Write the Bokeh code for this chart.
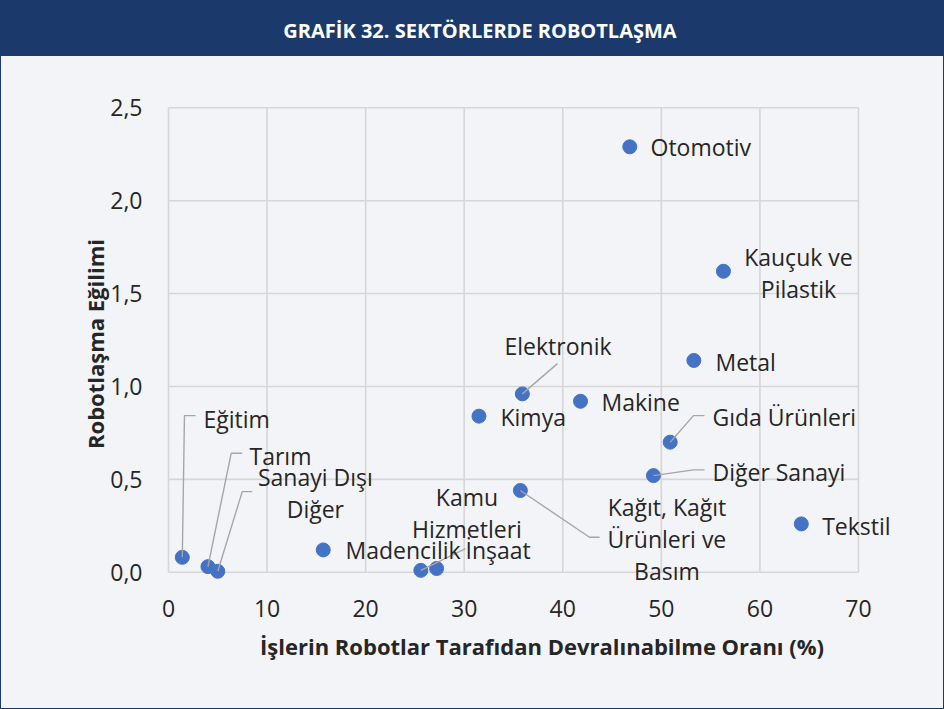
from bokeh.plotting import figure
from bokeh.layouts import column
from bokeh.models import Range1d, ColumnDataSource, FixedTicker, Div
from bokeh.core.properties import value, field
from bokeh.embed import file_html
from bokeh.resources import INLINE

# ---------------- data ----------------
title_text = "GRAFİK 32. SEKTÖRLERDE ROBOTLAŞMA"
x_title = "İşlerin Robotlar Tarafıdan Devralınabilme Oranı (%)"
y_title = "Robotlaşma Eğilimi"

sectors = ["Eğitim", "Tarım", "Sanayi Dışı Diğer", "Madencilik", "Kamu Hizmetleri",
           "İnşaat", "Kimya", "Elektronik", "Kağıt, Kağıt Ürünleri ve Basım", "Makine",
           "Otomotiv", "Diğer Sanayi", "Gıda Ürünleri", "Metal", "Kauçuk ve Pilastik", "Tekstil"]
automation_share = [1.4, 4.0, 5.0, 15.7, 25.6, 27.2, 31.5, 35.9, 35.7, 41.8,
                    46.8, 49.2, 50.9, 53.3, 56.3, 64.2]
robot_tendency = [0.08, 0.03, 0.005, 0.12, 0.01, 0.02, 0.84, 0.96, 0.44, 0.92,
                  2.29, 0.52, 0.70, 1.14, 1.62, 0.26]

label_lines = [["Eğitim"], ["Tarım"], ["Sanayi Dışı", "Diğer"], ["Madencilik"],
               ["Kamu", "Hizmetleri"], ["İnşaat"], ["Kimya"], ["Elektronik"],
               ["Kağıt, Kağıt", "Ürünleri ve", "Basım"], ["Makine"], ["Otomotiv"],
               ["Diğer Sanayi"], ["Gıda Ürünleri"], ["Metal"], ["Kauçuk ve", "Pilastik"], ["Tekstil"]]
label_x = [3.55, 8.22, 14.9, 17.96, 30.28, 30.13, 33.68, 39.52, 50.57, 43.93,
           48.9, 55.19, 55.19, 55.49, 63.91, 66.32]
label_y = [0.827, 0.628, 0.427, 0.122, 0.321, 0.117, 0.833, 1.220, 0.179, 0.915,
           2.287, 0.542, 0.833, 1.130, 1.611, 0.248]
label_align = ["left", "left", "center", "left", "center", "left", "left", "center",
               "center", "left", "left", "left", "left", "left", "center", "left"]

leader_sectors = ["Eğitim", "Tarım", "Sanayi Dışı Diğer", "Kamu Hizmetleri", "Elektronik",
                  "Gıda Ürünleri", "Diğer Sanayi", "Kağıt, Kağıt Ürünleri ve Basım"]
leader_x = [[1.62, 2.74], [6.36, 7.48], [7.48, 8.49], [30.13], [39.46],
            [53.26, 54.38], [53.26, 54.38], [42.71, 43.73]]
leader_y = [[0.843, 0.843], [0.640, 0.640], [0.434, 0.434], [0.127], [1.123],
            [0.843, 0.843], [0.551, 0.551], [0.188, 0.188]]

x_ticks = [0, 10, 20, 30, 40, 50, 60, 70]
x_tick_labels = ["0", "10", "20", "30", "40", "50", "60", "70"]
y_ticks = [0.0, 0.5, 1.0, 1.5, 2.0, 2.5]
y_tick_labels = ["0,0", "0,5", "1,0", "1,5", "2,0", "2,5"]

# ---------------- style ----------------
W = 942
HEAD_H = 55
FIG_H = 652
BG = "#f3f4f8"
NAVY = "#1b3a6b"
DOT = "#4472c4"
GRID = "#d6d6d6"
LEADER = "#a6a6a6"
TXT = "#262626"
FONT = "Open Sans"
LINE_PX = 32

X_RANGE = (-0.203, 75.99)
Y_RANGE = (-0.0608, 2.5178)
MB = dict(left=165, right=26, top=48, bottom=125)

header = Div(text=title_text, width=W, height=HEAD_H, margin=0,
             styles={"background-color": NAVY, "color": "white", "font-family": FONT,
                     "font-weight": "bold", "font-size": "20px", "text-align": "center",
                     "box-sizing": "border-box", "padding-top": "4px", "padding-left": "16px",
                     "line-height": "51px", "overflow": "hidden"})

p = figure(width=W, height=FIG_H, output_backend="svg", toolbar_location=None,
           x_range=Range1d(*X_RANGE), y_range=Range1d(*Y_RANGE),
           min_border_left=MB["left"], min_border_right=MB["right"],
           min_border_top=MB["top"], min_border_bottom=MB["bottom"])
p.background_fill_color = BG
p.border_fill_color = BG
p.outline_line_color = None
p.xgrid.grid_line_color = None
p.ygrid.grid_line_color = None

# grid lines
p.segment(x0=x_ticks, y0=[y_ticks[0]] * len(x_ticks), x1=x_ticks, y1=[y_ticks[-1]] * len(x_ticks),
          line_color=GRID, line_width=1.6)
p.segment(x0=[x_ticks[0]] * len(y_ticks), y0=y_ticks, x1=[x_ticks[-1]] * len(y_ticks), y1=y_ticks,
          line_color=GRID, line_width=1.6)

# axes
for ax in (p.xaxis[0], p.yaxis[0]):
    ax.axis_line_color = None
    ax.major_tick_line_color = None
    ax.minor_tick_line_color = None
    ax.major_tick_in = 0
    ax.major_tick_out = 0
    ax.major_label_text_font = FONT
    ax.major_label_text_font_size = "23px"
    ax.major_label_text_color = TXT
    ax.axis_label_text_font = FONT
    ax.axis_label_text_font_size = "22px"
    ax.axis_label_text_font_style = "bold"
    ax.axis_label_text_color = TXT

p.xaxis.ticker = FixedTicker(ticks=x_ticks)
p.xaxis.major_label_overrides = {t: l for t, l in zip(x_ticks, x_tick_labels)}
p.yaxis.ticker = FixedTicker(ticks=y_ticks)
p.yaxis.major_label_overrides = {t: l for t, l in zip(y_ticks, y_tick_labels)}
p.xaxis.axis_label = x_title
p.yaxis.axis_label = y_title
p.xaxis.major_label_standoff = 16
p.yaxis.major_label_standoff = 24
p.xaxis.axis_label_standoff = 11
p.yaxis.axis_label_standoff = -3

# points
src = ColumnDataSource(dict(x=automation_share, y=robot_tendency, name=sectors))
p.scatter("x", "y", source=src, size=14, fill_color=DOT, line_color=DOT)

# leader lines
idx = {s: i for i, s in enumerate(sectors)}
lx, ly = [], []
for s, xs, ys in zip(leader_sectors, leader_x, leader_y):
    i = idx[s]
    lx.append([automation_share[i]] + xs)
    ly.append([robot_tendency[i]] + ys)
p.multi_line(lx, ly, line_color=LEADER, line_width=1.4)

# labels (one glyph row per text line)
frame_h = FIG_H - MB["top"] - MB["bottom"]
dy = LINE_PX * (Y_RANGE[1] - Y_RANGE[0]) / frame_h
tx, ty, tt, ta = [], [], [], []
for lines, x0, y0, al in zip(label_lines, label_x, label_y, label_align):
    n = len(lines)
    for k, line in enumerate(lines):
        tx.append(x0)
        ty.append(y0 + ((n - 1) / 2 - k) * dy)
        tt.append(line)
        ta.append(al)
tsrc = ColumnDataSource(dict(x=tx, y=ty, text=tt, align=ta))
p.text("x", "y", text="text", source=tsrc, text_align=field("align"), text_baseline="middle",
       text_font=value(FONT), text_font_size="23px", text_color=TXT)

layout = column(header, p, spacing=0,
                styles={"border": f"1px solid {NAVY}", "background-color": BG})

open("out.html", "w").write(file_html(layout, INLINE))
